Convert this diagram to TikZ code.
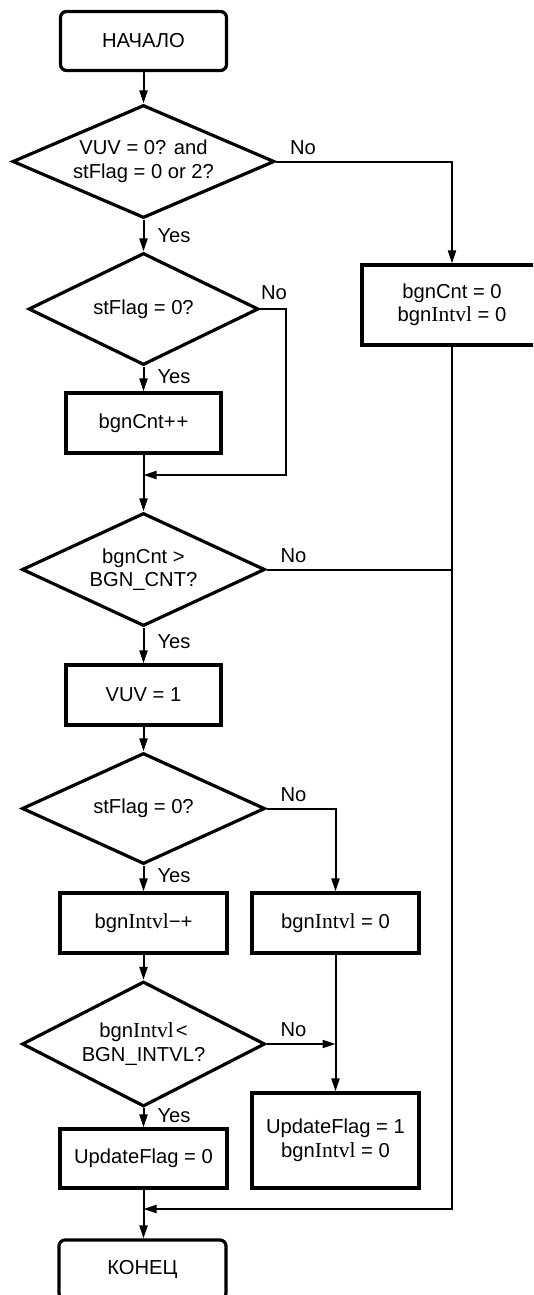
\documentclass[tikz,border=0pt]{standalone}
\usepackage{fontspec}
\setmainfont{Liberation Sans}
\newfontfamily\serifpart{Liberation Serif}
\usetikzlibrary{shapes.geometric,arrows.meta}
\newcommand{\Intvl}{{\serifpart\fontsize{21.5}{23.5}\selectfont Intvl}}

\begin{document}
\begin{tikzpicture}[x=1pt, y=-1pt,
            every node/.style = {align=center, font={\fontsize{20.2}{23.5}\selectfont}},
            term/.style = {shape=rectangle, rounded corners=6pt, draw, line width=3.2pt,
                    minimum width=166pt, minimum height=59pt},
            box/.style = {shape=rectangle, draw, line width=3.2pt,
                    minimum width=167pt, minimum height=60pt},
            decision/.style = {shape=diamond, draw, line width=3.2pt, inner sep=0pt},
            line/.style = {line width=2pt, -{Triangle[length=13pt,width=8pt]}},
            yes/.style = {anchor=west, inner sep=1pt, xshift=12pt},
            no/.style = {anchor=south west, inner sep=1pt, xshift=12pt, yshift=5pt}]
        \clip (0,0) rectangle (533,1295);
        % main column
        \node[term] (start) at (143.5,41) {НАЧАЛО};
        \node[decision, minimum width=262pt, minimum height=113pt, aspect=2.32] (vuvq)
            at (143.5,161.5) {VUV = 0? and\\stFlag = 0 or 2?};
        \node[decision, minimum width=230pt, minimum height=112pt, aspect=2.05] (flagq)
            at (143.5,309) {stFlag = 0?};
        \node[box, minimum width=155pt] (cntinc) at (143.5,423) {bgnCnt+\kern1pt+};
        \node[decision, minimum width=243pt, minimum height=113pt, aspect=2.15] (cntq)
            at (143.5,569.5) {bgnCnt >\\BGN\_CNT?};
        \node[box, minimum width=155pt] (vuvset) at (143.5,695) {VUV = 1};
        \node[decision, minimum width=243pt, minimum height=111pt, aspect=2.19] (flagqb)
            at (143.5,808.5) {stFlag = 0?};
        \node[box] (intvinc) at (143.5,923) {bgn\Intvl{}−+};
        \node[decision, minimum width=243pt, minimum height=125pt, aspect=1.94] (intvq)
            at (143.5,1044) {bgn\Intvl{}\kern2pt<\\BGN\_INTVL?};
        \node[box, minimum height=59pt] (updzero) at (143.5,1158.5) {UpdateFlag = 0};
        \node[term, minimum width=167pt] (stop) at (142.5,1269.5) {КОНЕЦ};
        % right columns
        \node[box] (intvzero) at (335.5,923) {bgn\Intvl{} = 0};
        \node[box, minimum height=95pt] (updone) at (335.5,1140.5)
            {UpdateFlag = 1\\bgn\Intvl{} = 0};
        \node[box, minimum width=180pt, minimum height=80pt] (reset) at (452,305)
            {bgnCnt = 0\\bgn\Intvl{} = 0};
        \coordinate (join1) at (143.5,475);
        \coordinate (join2) at (335.5,1044);
        \coordinate (join3) at (143.5,1209);

        \draw[line] (start) -- (vuvq);
        \draw[line] (vuvq) -- node[yes]{Yes} (flagq);
        \draw[line] (vuvq.east) node[no]{No} -| (reset.north);
        \draw[line] (flagq) -- node[yes, pos=0.4]{Yes} (cntinc);
        \draw[line] (flagq.east) node[no, xshift=-13pt, yshift=2pt]{No} -- ++(26,0) |- (join1);
        \draw[line] (cntinc) -- (cntq);
        \draw[line, -] (cntq.east) node[no]{No} -- (cntq.east -| reset.south);
        \draw[line] (reset.south) |- (join3);
        \draw[line] (cntq) -- node[yes, pos=0.4]{Yes} (vuvset);
        \draw[line] (vuvset) -- (flagqb);
        \draw[line] (flagqb) -- node[yes, pos=0.4]{Yes} (intvinc);
        \draw[line] (flagqb.east) node[no]{No} -| (intvzero.north);
        \draw[line] (intvinc) -- (intvq);
        \draw[line] (intvq.east) node[no]{No} -- (join2);
        \draw[line] (intvzero) -- (updone);
        \draw[line] (intvq) -- node[yes, pos=0.4]{Yes} (updzero);
        \draw[line] (updzero) -- (updzero |- stop.north);
    \end{tikzpicture}
\end{document}
